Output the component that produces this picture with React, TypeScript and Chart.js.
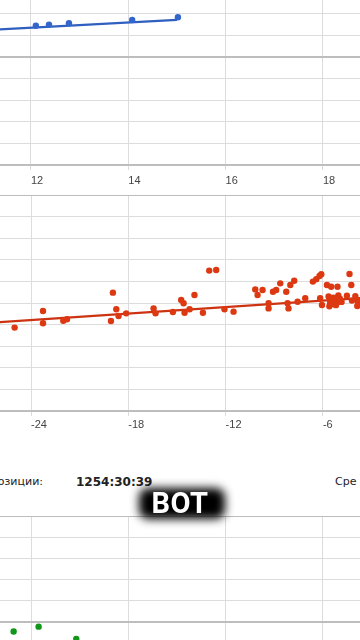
import React, { useEffect, useRef } from 'react';
import { Chart, registerables } from 'chart.js';

Chart.register(...registerables);

// ---- top chart (blue) ----
const blueX = [12.1, 12.37, 12.78, 14.08, 15.02];
const blueY = [1.45, 1.5, 1.56, 1.71, 1.84];
const blueTrendX = [11.0, 15.0];
const blueTrendY = [1.24, 1.72];
const topXTicks = [12, 14, 16, 18];
const topYTicks = [2, 1, 0, -1, -2, -3, -4, -5];
const topYDark = [0, -5];

// ---- middle chart (red) ----
const redX = [
  -25.01, -23.26, -23.26, -22.01, -21.78, -19.07, -18.95, -18.74, -18.6, -18.13,
  -16.44, -16.32, -15.25, -14.74, -14.59, -14.53, -14.22, -13.92, -13.4, -13.01,
  -12.58, -12.07, -11.51, -10.17, -10.03, -9.72, -9.35, -9.35, -9.08, -8.88,
  -8.63, -8.26, -8.18, -8.12, -8.01, -7.77, -7.56, -7.09, -6.62, -6.41,
  -6.21, -6.1, -6.06, -6.17, -5.75, -5.49, -5.1, -5.65, -5.55, -5.45,
  -5.35, -5.25, -5.15, -5.05, -4.95, -5.6, -5.2, -4.85, -4.36, -4.25,
  -4.52, -4.21, -3.9, -3.7, -4.0, -3.82, -3.88, -5.55,
];
const redY = [
  -1.14, -0.37, -0.94, -0.82, -0.75, -0.83, 0.48, -0.29, -0.6, -0.48,
  -0.25, -0.48, -0.42, 0.14, -0.01, -0.45, -0.29, 0.37, -0.45, 1.5,
  1.53, -0.29, -0.4, 0.63, 0.37, 0.6, -0.01, -0.25, 0.52, 0.6,
  0.91, 0.52, -0.01, -0.25, 0.83, 1.03, 0.06, 0.22, 0.99, 1.1,
  1.25, 1.33, -0.09, 0.22, 0.83, 0.75, 0.75, 0.3, 0.1, -0.05,
  0.25, 0.15, 0.0, 0.35, 0.2, -0.15, -0.1, 0.05, 1.34, 0.83,
  0.34, 0.11, 0.14, -0.01, 0.32, 0.05, -0.14, -0.01,
];
const redTrendX = [-27, -3];
const redTrendY = [-0.94, 0.26];
const midXTicks = [-24, -18, -12, -6];
const midYTicks = [5, 4, 3, 2, 1, 0, -1, -2, -3, -4, -5];
const midYDark = [5, -5];

// ---- bottom chart (green) ----
const greenX = [-25.07, -23.53, -21.21];
const greenY = [-0.45, -0.22, -0.8];
const bottomXTicks = [-24, -18, -12, -6];
const bottomYTicks = [5, 4, 3, 2, 1, 0, -1, -2, -3, -4, -5];
const bottomYDark = [5, 0];

// ---- texts ----
const infoLabel = 'Время в позиции:';
const infoValue = '1254:30:39';
const infoNext = 'Сре';
const captionText = 'ВОТ';

const LIGHT = '#dcdcdc';
const DARK = '#bdbdbd';

const pts = (xs: number[], ys: number[]) => xs.map((x, i) => ({ x, y: ys[i] }));

function makeConfig(opts: {
  xs: number[]; ys: number[]; color: string;
  tx?: number[]; ty?: number[]; trendColor?: string;
  xMin: number; xMax: number; yMin: number; yMax: number;
  xTicks: number[]; yTicks: number[]; yDark: number[]; axisH: number; tickPad: number;
}): any {
  const datasets: any[] = [
    {
      data: pts(opts.xs, opts.ys),
      backgroundColor: opts.color,
      borderColor: opts.color,
      borderWidth: 0,
      pointRadius: 3.2,
      showLine: false,
    },
  ];
  if (opts.tx && opts.ty) {
    datasets.push({
      data: pts(opts.tx, opts.ty),
      borderColor: opts.trendColor,
      backgroundColor: opts.trendColor,
      borderWidth: 2.2,
      pointRadius: 0,
      showLine: true,
    });
  }
  return {
    type: 'scatter',
    data: { datasets },
    options: {
      responsive: false,
      animation: false,
      events: [],
      layout: { padding: 0, autoPadding: false },
      plugins: { legend: { display: false }, tooltip: { enabled: false } },
      scales: {
        x: {
          type: 'linear',
          min: opts.xMin,
          max: opts.xMax,
          afterBuildTicks: (s: any) => {
            s.ticks = opts.xTicks.map((v) => ({ value: v }));
          },
          afterFit: (s: any) => {
            s.height = opts.axisH;
          },
          ticks: {
            align: 'start',
            color: '#444',
            padding: opts.tickPad,
            font: { family: 'Liberation Sans, Arial, sans-serif', size: 11 },
            callback: (v: any) => String(v),
          },
          grid: { color: LIGHT, lineWidth: 1, tickLength: 5 },
          border: { color: DARK, width: 2 },
        },
        y: {
          type: 'linear',
          min: opts.yMin,
          max: opts.yMax,
          afterBuildTicks: (s: any) => {
            s.ticks = opts.yTicks.map((v) => ({ value: v }));
          },
          ticks: { display: false },
          grid: {
            drawTicks: false,
            color: (c: any) => (c.tick && opts.yDark.includes(c.tick.value) ? DARK : LIGHT),
            lineWidth: (c: any) => (c.tick && opts.yDark.includes(c.tick.value) ? 2 : 1),
          },
          border: { display: false },
        },
      },
    },
  };
}

function ChartCanvas(props: { top: number; height: number; config: any }) {
  const ref = useRef<HTMLCanvasElement | null>(null);
  useEffect(() => {
    if (!ref.current) return;
    const chart = new Chart(ref.current, props.config);
    return () => chart.destroy();
  }, []);
  return (
    <canvas
      ref={ref}
      width={360}
      height={props.height}
      style={{ position: 'absolute', left: 0, top: props.top, width: 360, height: props.height }}
    />
  );
}

export default function App() {
  const topCfg = makeConfig({
    xs: blueX, ys: blueY, color: '#3366cc', tx: blueTrendX, ty: blueTrendY, trendColor: '#2f5fbf',
    xMin: 12 - 31 / 48.65, xMax: 12 + 329 / 48.65, yMin: -5, yMax: 57 / 21.6,
    xTicks: topXTicks, yTicks: topYTicks, yDark: topYDark, axisH: 30, tickPad: 4,
  });
  const midCfg = makeConfig({
    xs: redX, ys: redY, color: '#dc3912', tx: redTrendX, ty: redTrendY, trendColor: '#cc3311',
    xMin: -24 - 31 / 16.217, xMax: -24 + 329 / 16.217, yMin: -5, yMax: 5,
    xTicks: midXTicks, yTicks: midYTicks, yDark: midYDark, axisH: 29, tickPad: 2,
  });
  const botCfg = makeConfig({
    xs: greenX, ys: greenY, color: '#109618',
    xMin: -24 - 31 / 16.217, xMax: -24 + 329 / 16.217, yMin: -5, yMax: 5,
    xTicks: bottomXTicks, yTicks: bottomYTicks, yDark: bottomYDark, axisH: 30, tickPad: 2,
  });

  return (
    <div
      style={{
        position: 'absolute', left: 0, top: 0, width: 360, height: 640,
        overflow: 'hidden', background: '#ffffff',
      }}
    >
      <ChartCanvas top={0} height={195} config={topCfg} />
      <ChartCanvas top={195} height={245} config={midCfg} />
      <ChartCanvas top={516} height={242} config={botCfg} />

      <div
        style={{
          position: 'absolute', right: 317, top: 475, whiteSpace: 'nowrap',
          font: '11px "DejaVu Sans", sans-serif', lineHeight: '14px', color: '#222',
        }}
      >
        {infoLabel}
      </div>
      <div
        style={{
          position: 'absolute', left: 76, top: 475, whiteSpace: 'nowrap',
          font: 'bold 12px "DejaVu Sans", sans-serif', lineHeight: '14px', color: '#222',
        }}
      >
        {infoValue}
      </div>
      <div
        style={{
          position: 'absolute', left: 335, top: 475, whiteSpace: 'nowrap',
          font: '11px "DejaVu Sans", sans-serif', lineHeight: '14px', color: '#222',
        }}
      >
        {infoNext}
      </div>

      <div
        style={{
          position: 'absolute', left: 139, top: 488, width: 86, height: 31,
          background: '#000', borderRadius: 9, filter: 'blur(5px)',
        }}
      />
      <div
        style={{
          position: 'absolute', left: 130, width: 100, top: 489, textAlign: 'center',
          font: 'bold 29px Roboto, "Noto Sans", sans-serif', lineHeight: '29px', color: '#fff',
          letterSpacing: 0.5,
        }}
      >
        {captionText}
      </div>
    </div>
  );
}
